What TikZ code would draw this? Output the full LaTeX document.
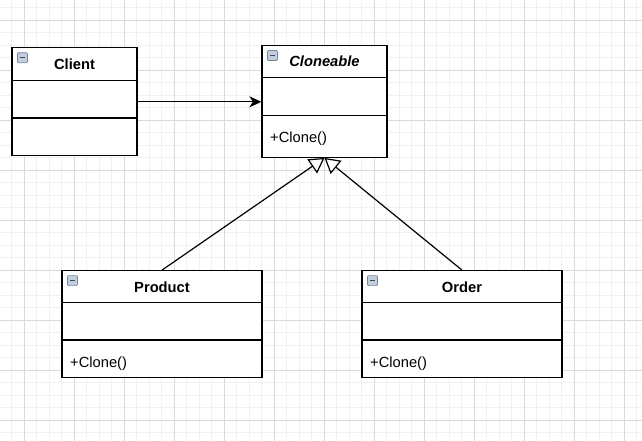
\documentclass[tikz,border=0pt]{standalone}
\usepackage{fontspec}
\setmainfont{Liberation Sans}
\usetikzlibrary{arrows.meta,calc}
\definecolor{gridminor}{HTML}{F1F1F1}
\definecolor{gridmajor}{HTML}{DADADA}
\definecolor{iconfill}{HTML}{C3CEDD}
\definecolor{icondraw}{HTML}{7585A0}
\definecolor{iconbar}{HTML}{3E4A5E}
\tikzset{
  cls/.style={draw=black, line width=1.2pt, fill=white, rectangle, inner sep=0pt},
  sep/.style={draw=black, line width=1.2pt},
  ttl/.style={anchor=base, font=\fontsize{14.7}{17}\selectfont\bfseries, inner sep=0pt},
  mth/.style={anchor=base west, font=\fontsize{14.7}{17}\selectfont, inner sep=0pt},
  assoc/.style={draw=black, line width=1.2pt, -{Stealth[length=12pt, width=11pt, inset=3.5pt]}},
  inherit/.style={draw=black, line width=1.2pt, -{Triangle[open, length=15pt, width=17pt, line width=1.2pt]}},
}
\newcommand{\clsicon}[1]{%
  \draw[icondraw, fill=iconfill, line width=0.7pt, rounded corners=1pt] ($(#1.north west)+(6,5.5)$) rectangle ++(10,10);
  \draw[iconbar, line width=1.3pt] ($(#1.north west)+(8.2,10.5)$) -- ++(5.6,0);
}
\begin{document}
\begin{tikzpicture}[x=1pt, y=-1pt]
\useasboundingbox (0,0) rectangle (642,441);
\fill[white] (0,0) rectangle (642,441);
% grid
\begin{scope}
\clip (0,0) rectangle (642,441);
\foreach \i in {0,...,52} {
  \draw[gridminor, line width=1pt] ({-0.7+12.5*\i},0) -- ({-0.7+12.5*\i},441);
}
\foreach \i in {0,...,36} {
  \draw[gridminor, line width=1pt] (0,{7.8+12.5*\i}) -- (642,{7.8+12.5*\i});
}
\foreach \i in {0,...,12} {
  \draw[gridmajor, line width=1pt] ({24.3+50*\i},0) -- ({24.3+50*\i},441);
}
\foreach \i in {0,...,8} {
  \draw[gridmajor, line width=1pt] (0,{20.3+50*\i}) -- (642,{20.3+50*\i});
}
\end{scope}

% Client
\node[cls, minimum width=125pt, minimum height=108pt] (client) at (74.5,101.8) {};
\draw[sep] (12,80.3) -- (137,80.3);
\draw[sep] (12,118) -- (137,118);
\node[ttl] (clientT) at (74.5,70) {Client};
\clsicon{client}

% Cloneable
\node[cls, minimum width=125pt, minimum height=111.6pt] (cloneable) at (324.5,101.5) {};
\draw[sep] (262,77.7) -- (387,77.7);
\draw[sep] (262,115.3) -- (387,115.3);
\node[ttl, font=\fontsize{14.7}{17}\selectfont\bfseries\itshape] (cloneableT) at (324.5,67) {Cloneable};
\node[mth] (cloneableM) at (270,142.3) {+Clone()};
\clsicon{cloneable}

% Product
\node[cls, minimum width=200pt, minimum height=107pt] (product) at (162,324.2) {};
\draw[sep] (62,302.7) -- (262,302.7);
\draw[sep] (62,340) -- (262,340);
\node[ttl] (productT) at (162,292) {Product};
\node[mth] (productM) at (70,367) {+Clone()};
\clsicon{product}

% Order
\node[cls, minimum width=200pt, minimum height=107pt] (order) at (462,324.2) {};
\draw[sep] (362,302.7) -- (562,302.7);
\draw[sep] (362,340) -- (562,340);
\node[ttl] (orderT) at (462,292) {Order};
\node[mth] (orderM) at (370,367) {+Clone()};
\clsicon{order}

% connectors
\draw[assoc] (client.east) -- (client.east -| cloneable.west);
\draw[inherit] (product.north) -- (cloneable.south);
\draw[inherit] (order.north) -- (cloneable.south);
\end{tikzpicture}
\end{document}
